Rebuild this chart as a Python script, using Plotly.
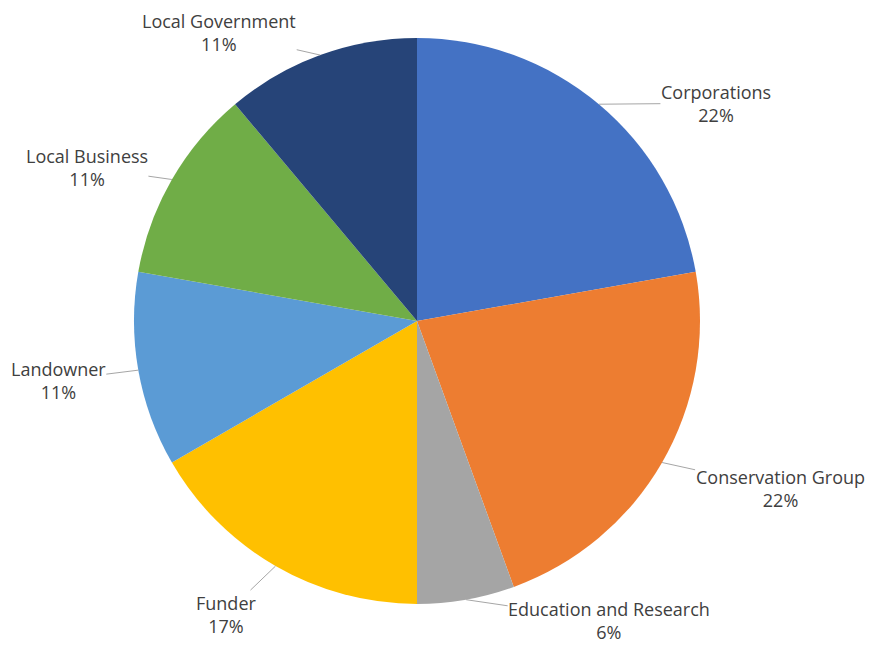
import math
import plotly.graph_objects as go

categories = ["Corporations", "Conservation Group", "Education and Research",
              "Funder", "Landowner", "Local Business", "Local Government"]
values = [4, 4, 1, 3, 2, 2, 2]
colors = ["#4472C4", "#ED7D31", "#A5A5A5", "#FFC000", "#5B9BD5", "#70AD47", "#264478"]

# label offsets (pixels) from slice edge midpoint -> label centre (layout only)
label_offsets = {
    "Corporations": (117, -1),
    "Conservation Group": (118, 26),
    "Education and Research": (143, 21),
    "Funder": (-50, 48),
    "Landowner": (-80, 10),
    "Local Business": (-85, -12),
    "Local Government": (-101, -23),
}

W, H = 869, 645
cx, cy, R = 417, 321, 283
dom_x = [(cx - R) / W, (cx + R) / W]
dom_y = [1 - (cy + R) / H, 1 - (cy - R) / H]

fig = go.Figure(go.Pie(
    labels=categories, values=values, sort=False, direction="clockwise",
    rotation=0, marker=dict(colors=colors, line=dict(width=0)),
    textinfo="none", hoverinfo="label+percent",
    domain=dict(x=dom_x, y=dom_y), showlegend=False,
))

total = sum(values)
cum = 0
for cat, v in zip(categories, values):
    mid = (cum + v / 2) / total * 2 * math.pi
    cum += v
    px = cx + R * math.sin(mid)
    py = cy - R * math.cos(mid)
    ax, ay = label_offsets[cat]
    pct = round(v / total * 100)
    fig.add_annotation(
        x=px / W, y=1 - py / H, xref="paper", yref="paper",
        ax=ax, ay=ay, showarrow=True, arrowhead=0, arrowwidth=1,
        arrowcolor="#A6A6A6", standoff=0, borderpad=0,
        text=f"{cat}<br>{pct}%", align="center",
        font=dict(family="Open Sans", size=18, color="#404040"),
    )

fig.update_layout(width=W, height=H, margin=dict(l=0, r=0, t=0, b=0),
                  paper_bgcolor="white", plot_bgcolor="white")
fig.write_html("out.html")
